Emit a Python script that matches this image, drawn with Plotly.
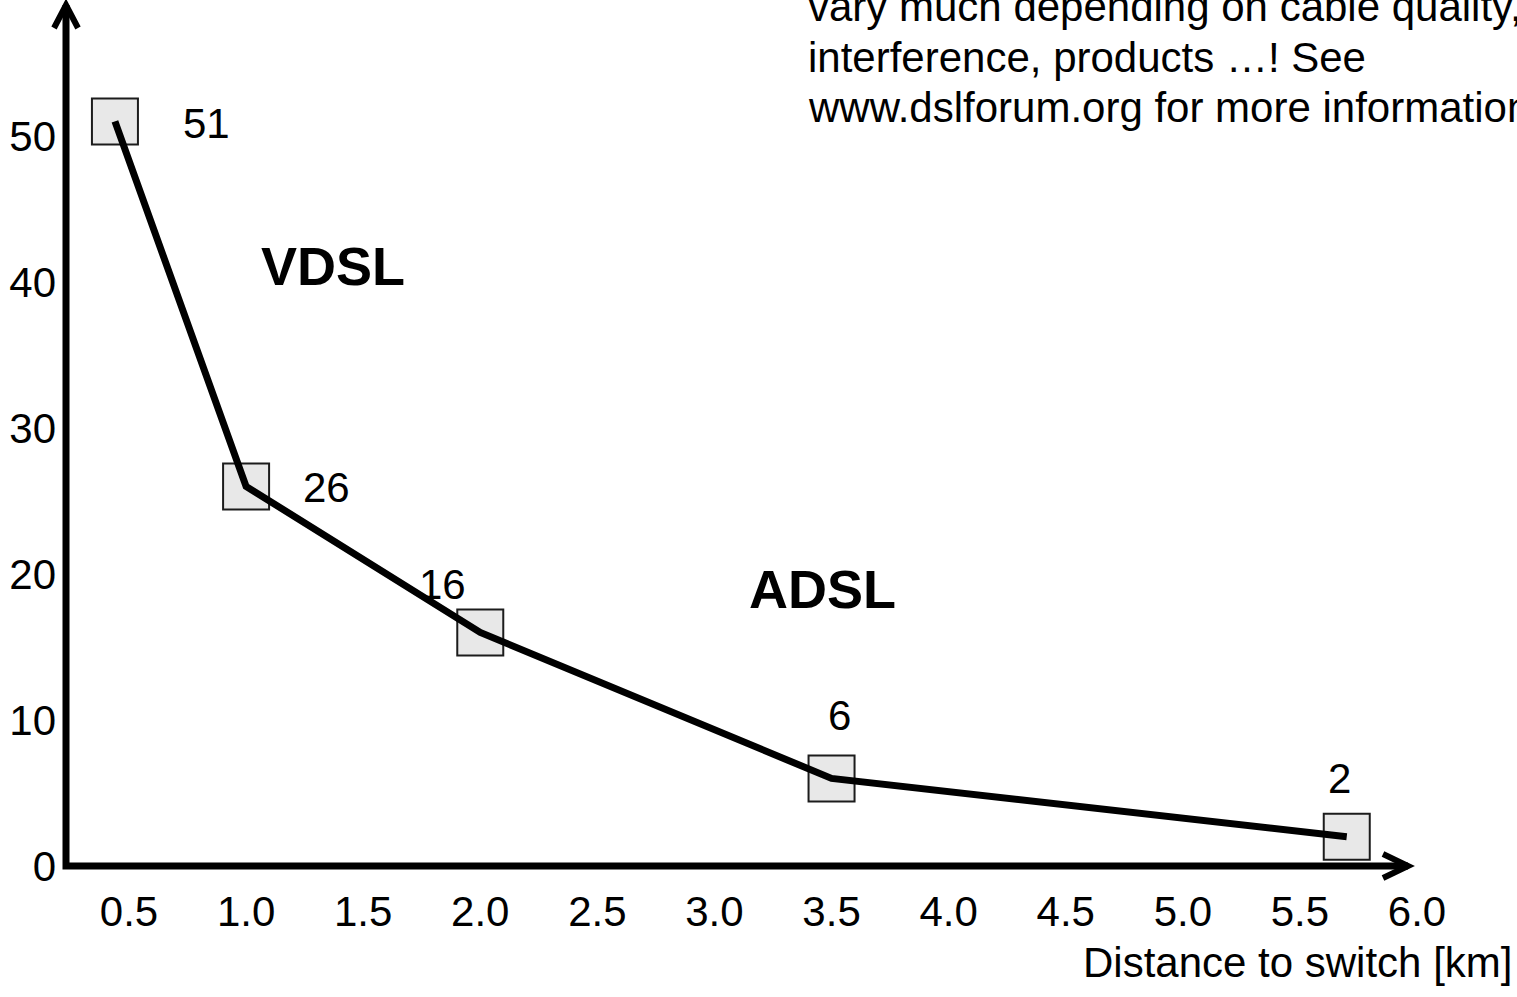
import plotly.graph_objects as go

# Distance to the switch (km) and the downstream rate reached there (Mbit/s)
distance_km = [0.44, 1.0, 2.0, 3.5, 5.7]
rate_mbps = [51, 26, 16, 6, 2]

# Axis ticks
x_ticks = [0.5, 1.0, 1.5, 2.0, 2.5, 3.0, 3.5, 4.0, 4.5, 5.0, 5.5, 6.0]
x_tick_text = ["0.5", "1.0", "1.5", "2.0", "2.5", "3.0", "3.5", "4.0", "4.5", "5.0", "5.5", "6.0"]
y_ticks = [0, 10, 20, 30, 40, 50]

x_title = "Distance to switch [km]"
region_names = ["VDSL", "ADSL"]
note_lines = [
    "vary much depending on cable quality,",
    "interference, products \u2026! See",
    "www.dslforum.org for more information.",
]

# ---- page geometry -------------------------------------------------------
W, H = 1517, 997
ML, MR, MT, MB = 66, 0, 0, 131
PW, PH = W - ML - MR, H - MT - MB
FONT = "Liberation Sans, Arial, sans-serif"


def px_x(px):
    """page pixel column -> paper fraction"""
    return (px - ML) / PW


def px_y(py):
    """page pixel row -> paper fraction"""
    return (H - MB - py) / PH


# value-label offsets from each marker, in pixels (+y is up)
label_shift = [(92, -2), (80, -1), (-38, 48), (8, 63), (-7, 58)]

fig = go.Figure()

# square markers first so the curve runs over them
fig.add_trace(go.Scatter(
    x=distance_km, y=rate_mbps, mode="markers",
    marker=dict(symbol="square", size=46, color="#e8e8e8",
                line=dict(color="#1c1c1c", width=2)),
    hoverinfo="skip", showlegend=False, cliponaxis=False,
))
fig.add_trace(go.Scatter(
    x=distance_km, y=rate_mbps, mode="lines",
    line=dict(color="black", width=7),
    showlegend=False, cliponaxis=False,
))

annotations = []
for xv, yv, (dx, dy) in zip(distance_km, rate_mbps, label_shift):
    annotations.append(dict(
        x=xv, y=yv, xref="x", yref="y", text=str(yv), showarrow=False,
        xshift=dx, yshift=dy, font=dict(family=FONT, size=42, color="black"),
    ))

# region captions
for name, (cx, cy) in zip(region_names, [(333, 266), (822, 589)]):
    annotations.append(dict(
        x=px_x(cx), y=px_y(cy), xref="paper", yref="paper",
        text=f"<b>{name}</b>", showarrow=False, xanchor="center", yanchor="middle",
        font=dict(family=FONT, size=54, color="black"),
    ))

# note in the upper right corner
for i, line in enumerate(note_lines):
    annotations.append(dict(
        x=px_x(806), y=px_y(6.5 + 50.5 * i), xref="paper", yref="paper",
        text=line, showarrow=False, xanchor="left", yanchor="middle",
        font=dict(family=FONT, size=42, color="black"),
    ))

# x-axis caption
annotations.append(dict(
    x=px_x(1514), y=px_y(962), xref="paper", yref="paper",
    text=x_title, showarrow=False, xanchor="right", yanchor="middle",
    font=dict(family=FONT, size=42, color="black"),
))

# axis lines with open arrowheads
tip_x = (px_x(1408), 0.0)
tip_y = (0.0, px_y(5))
shapes = [
    dict(type="path", xref="paper", yref="paper",
         path=f"M {tip_y[0]},{tip_y[1]} L 0,0 L {tip_x[0]},{tip_x[1]}",
         line=dict(color="black", width=7)),
    dict(type="path", xref="paper", yref="paper",
         xsizemode="pixel", ysizemode="pixel",
         xanchor=tip_y[0], yanchor=tip_y[1],
         path="M -12,-23 L 0,0 L 12,-23",
         line=dict(color="black", width=6)),
    dict(type="path", xref="paper", yref="paper",
         xsizemode="pixel", ysizemode="pixel",
         xanchor=tip_x[0], yanchor=tip_x[1],
         path="M -25,12 L 0,0 L -25,-12",
         line=dict(color="black", width=6)),
]

fig.update_layout(
    width=W, height=H,
    margin=dict(l=ML, r=MR, t=MT, b=MB, pad=0),
    paper_bgcolor="white", plot_bgcolor="white",
    font=dict(family=FONT, size=42, color="black"),
    xaxis=dict(range=[0.231, 6.427], tickvals=x_ticks, ticktext=x_tick_text,
               showgrid=False, zeroline=False, showline=False, ticks="",
               ticklabelstandoff=17, tickfont=dict(size=42)),
    yaxis=dict(range=[0, PH / 14.6], tickvals=y_ticks,
               showgrid=False, zeroline=False, showline=False, ticks="",
               ticklabelstandoff=9, tickfont=dict(size=42)),
    annotations=annotations,
    shapes=shapes,
    showlegend=False,
)

fig.write_html("out.html")
